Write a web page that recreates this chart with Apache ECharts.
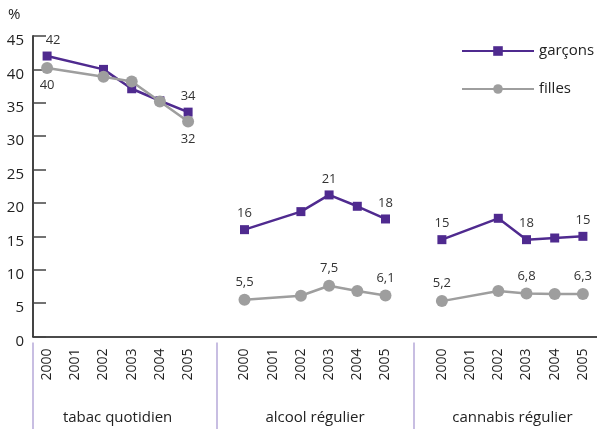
<!DOCTYPE html>
<html>
<head>
<meta charset="utf-8">
<script src="https://cdn.jsdelivr.net/npm/echarts@6/dist/echarts.min.js"></script>
<style>
  html, body { margin: 0; padding: 0; background: #fff; }
  #chart { width: 597px; height: 429px; }
</style>
</head>
<body>
<div id="chart"></div>
<script>
// axe des x : 3 groupes de 6 années, séparés par une case vide
const yearLabels = [
  '2000', '2001', '2002', '2003', '2004', '2005', '',
  '2000', '2001', '2002', '2003', '2004', '2005', '',
  '2000', '2001', '2002', '2003', '2004', '2005'
];
const groupNames = ['tabac quotidien', 'alcool régulier', 'cannabis régulier'];
const groupStarts = [0, 7, 14];
const groupCenters = [3, 10, 17];
const groupSeparators = [0, 6.5, 13.5];
const yTicks = [0, 5, 10, 15, 20, 25, 30, 35, 40, 45];

// valeurs (2001 manquant)
const tabacGarcons = [42, null, 40, 37.1, 35.3, 33.6];
const tabacFilles = [40.2, null, 38.9, 38.2, 35.2, 32.2];
const alcoolGarcons = [16.0, null, 18.7, 21.2, 19.5, 17.6];
const alcoolFilles = [5.5, null, 6.1, 7.6, 6.8, 6.15];
const cannabisGarcons = [14.5, null, 17.7, 14.5, 14.75, 15.0];
const cannabisFilles = [5.3, null, 6.8, 6.45, 6.35, 6.35];

// étiquettes affichées
const tabacGarconsLabels = ['42', '', '', '', '', '34'];
const tabacFillesLabels = ['40', '', '', '', '', '32'];
const alcoolGarconsLabels = ['16', '', '', '21', '', '18'];
const alcoolFillesLabels = ['5,5', '', '', '7,5', '', '6,1'];
const cannabisGarconsLabels = ['15', '', '', '18', '', '15'];
const cannabisFillesLabels = ['5,2', '', '', '6,8', '', '6,3'];

const purple = '#4f2a8f';
const grey = '#9e9e9e';
const sepColor = '#b7a9d9';
const font = '"Open Sans", "Noto Sans", sans-serif';

function makeSeries(name, values, labels, start, gender, labelPos) {
  const data = yearLabels.map(() => null);
  values.forEach((v, i) => {
    if (v === null) return;
    data[start + i] = {
      value: v,
      label: {
        show: labels[i] !== '',
        formatter: labels[i],
        position: labelPos,
        offset: (start === 0 && i === 0 && gender === 'g') ? [6, 0] : [0, 0]
      }
    };
  });
  const g = gender === 'g';
  return {
    name: name,
    type: 'line',
    data: data,
    connectNulls: true,
    symbol: g ? 'rect' : 'circle',
    symbolSize: g ? 9 : 12,
    itemStyle: { color: g ? purple : grey },
    lineStyle: { color: g ? purple : grey, width: 2.5 },
    label: { color: '#333', fontSize: 13, fontFamily: font, distance: 5 },
    emphasis: { disabled: true },
    animation: false
  };
}

const chart = echarts.init(document.getElementById('chart'));
const option = {
  animation: false,
  legend: {
    data: ['garçons', 'filles'],
    orient: 'vertical',
    left: 456,
    top: 37,
    itemWidth: 72,
    itemHeight: 12,
    itemGap: 20,
    textStyle: { fontSize: 15, fontFamily: font, color: '#222', lineHeight: 18 }
  },
  graphic: [{
    type: 'text',
    left: 8,
    top: 7,
    style: { text: '%', fontSize: 15, fontFamily: font, fill: '#222' }
  }],
  grid: { left: 33, right: 0, top: 36, bottom: 92.5, containLabel: false, outerBoundsMode: 'none' },
  xAxis: [{
    type: 'category',
    data: yearLabels.map((y, i) => String(i)),
    boundaryGap: true,
    axisLine: { lineStyle: { color: '#111', width: 1.5 } },
    axisTick: { inside: true, length: 7, interval: 0, lineStyle: { color: '#111', width: 1.5 } },
    axisLabel: {
      interval: 0,
      rotate: 90,
      margin: 12,
      fontSize: 14,
      fontFamily: font,
      color: '#222',
      formatter: (v, i) => yearLabels[i]
    },
    splitLine: { show: false }
  }, {
    type: 'value',
    min: 0,
    max: 20,
    position: 'bottom',
    offset: 93,
    axisLine: { show: false },
    splitLine: { show: false },
    axisTick: {
      show: true,
      inside: true,
      length: 87,
      customValues: groupSeparators,
      lineStyle: { color: sepColor, width: 1.5 }
    },
    axisLabel: {
      show: true,
      inside: true,
      margin: 4,
      customValues: groupCenters,
      fontSize: 15,
      fontFamily: font,
      color: '#222',
      formatter: v => groupNames[groupCenters.indexOf(v)]
    }
  }],
  yAxis: {
    type: 'value',
    min: yTicks[0],
    max: yTicks[yTicks.length - 1],
    interval: 5,
    axisLine: { show: true, lineStyle: { color: '#444', width: 2 } },
    axisTick: { show: true, inside: true, length: 13, lineStyle: { color: '#444', width: 1.5 } },
    axisLabel: {
      fontSize: 15,
      fontFamily: font,
      color: '#222',
      margin: 9,
      verticalAlign: 'top',
      lineHeight: 10
    },
    splitLine: { show: false }
  },
  series: [
    makeSeries('garçons', tabacGarcons, tabacGarconsLabels, groupStarts[0], 'g', 'top'),
    makeSeries('garçons', alcoolGarcons, alcoolGarconsLabels, groupStarts[1], 'g', 'top'),
    makeSeries('garçons', cannabisGarcons, cannabisGarconsLabels, groupStarts[2], 'g', 'top'),
    makeSeries('filles', tabacFilles, tabacFillesLabels, groupStarts[0], 'f', 'bottom'),
    makeSeries('filles', alcoolFilles, alcoolFillesLabels, groupStarts[1], 'f', 'top'),
    makeSeries('filles', cannabisFilles, cannabisFillesLabels, groupStarts[2], 'f', 'top')
  ]
};
chart.setOption(option);
</script>
</body>
</html>
